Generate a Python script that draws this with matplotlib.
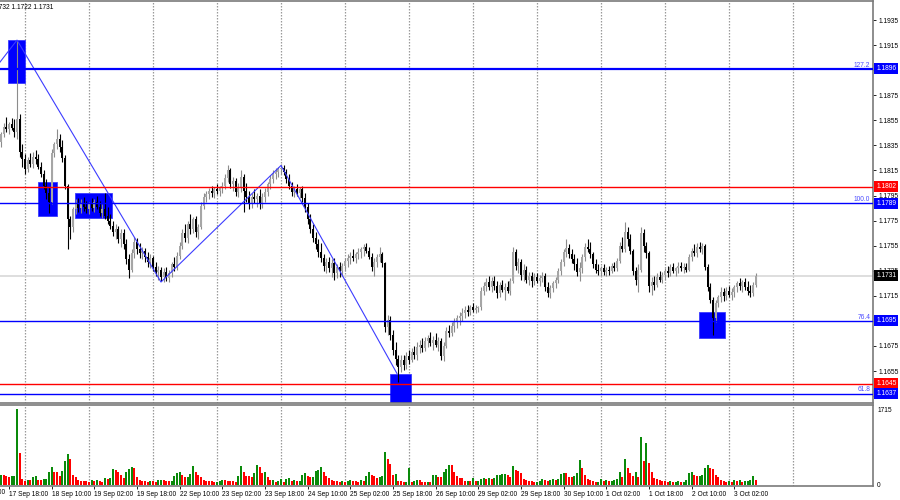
import matplotlib
matplotlib.use("Agg")
import matplotlib.pyplot as plt
import matplotlib.transforms as mtransforms
import numpy as np
import pandas as pd

#---------------------------------------#
# DATA (EURUSD H1, prices in pips above 1.1000, e.g. 845 -> 1.1845)
#---------------------------------------#
OPEN = [838, 844, 850, 848, 852, 849, 846, 856, 830, 824,
        816, 823, 820, 826, 824, 818, 812, 803, 797, 790,
        829, 836, 840, 834, 825, 803, 776, 770, 784, 788,
        785, 789, 786, 784, 788, 785, 790, 786, 781, 784,
        779, 775, 771, 766, 768, 760, 765, 756, 744, 736,
        749, 758, 752, 749, 751, 746, 742, 745, 738, 734,
        736, 730, 734, 729, 733, 740, 738, 747, 755, 765,
        761, 772, 768, 776, 766, 770, 787, 794, 796, 799,
        797, 800, 799, 801, 803, 809, 815, 804, 807, 798,
        802, 810, 799, 794, 788, 794, 792, 795, 789, 794,
        798, 804, 808, 812, 814, 816, 817, 814, 808, 803,
        798, 800, 797, 800, 793, 786, 776, 768, 761, 756,
        750, 745, 739, 742, 737, 741, 733, 738, 735, 739,
        743, 745, 747, 745, 748, 750, 752, 754, 751, 746,
        738, 742, 746, 748, 741, 690, 696, 684, 672, 665,
        658, 664, 660, 667, 664, 670, 668, 674, 676, 673,
        679, 681, 677, 680, 676, 679, 667, 675, 687, 685,
        691, 694, 697, 699, 701, 704, 702, 706, 704, 705,
        706, 719, 723, 726, 722, 727, 723, 717, 724, 720,
        722, 719, 727, 750, 739, 742, 732, 736, 728, 731,
        727, 730, 727, 729, 731, 722, 717, 721, 725, 728,
        735, 742, 750, 753, 748, 744, 740, 734, 737, 746,
        754, 752, 748, 740, 736, 735, 737, 734, 736, 735,
        739, 737, 743, 755, 752, 766, 760, 751, 735, 728,
        736, 765, 755, 749, 723, 726, 724, 730, 728, 732,
        735, 733, 738, 735, 737, 739, 737, 738, 736, 746,
        751, 749, 754, 752, 755, 738, 722, 712, 697, 709,
        714, 718, 715, 719, 716, 718, 722, 725, 723, 726,
        722, 719, 717, 724]
HIGH = [846, 853, 858, 854, 857, 856, 918, 860, 836, 828,
        826, 829, 830, 831, 828, 822, 815, 808, 802, 832,
        838, 848, 844, 839, 827, 804, 779, 786, 792, 793,
        792, 794, 791, 790, 793, 792, 795, 791, 788, 797,
        786, 780, 775, 772, 771, 768, 768, 760, 748, 752,
        762, 761, 757, 754, 753, 750, 748, 747, 742, 739,
        738, 737, 738, 736, 742, 746, 750, 758, 768, 772,
        775, 780, 778, 779, 772, 790, 797, 799, 801, 803,
        802, 804, 803, 806, 812, 819, 817, 810, 809, 805,
        815, 812, 805, 799, 797, 800, 797, 800, 797, 801,
        806, 811, 815, 817, 818, 820, 819, 816, 812, 806,
        803, 804, 802, 803, 797, 789, 780, 772, 766, 760,
        757, 748, 745, 746, 744, 745, 740, 742, 741, 745,
        748, 750, 752, 750, 753, 754, 756, 757, 754, 749,
        745, 748, 754, 750, 742, 700, 699, 688, 678, 668,
        668, 668, 670, 672, 673, 675, 678, 680, 681, 682,
        684, 686, 683, 685, 682, 681, 678, 690, 692, 694,
        697, 700, 702, 705, 707, 708, 708, 709, 708, 707,
        722, 726, 729, 731, 730, 731, 727, 726, 728, 725,
        727, 729, 754, 752, 745, 744, 740, 739, 734, 734,
        733, 733, 732, 734, 733, 726, 724, 727, 730, 737,
        744, 752, 760, 756, 752, 748, 745, 742, 748, 757,
        760, 758, 750, 744, 740, 739, 740, 738, 739, 741,
        742, 745, 758, 762, 774, 770, 764, 752, 738, 740,
        770, 768, 758, 751, 730, 731, 733, 735, 734, 737,
        739, 740, 741, 738, 742, 742, 741, 741, 748, 753,
        756, 757, 758, 757, 756, 740, 725, 714, 712, 716,
        722, 721, 722, 723, 721, 724, 727, 729, 728, 729,
        727, 724, 726, 733]
LOW = [834, 842, 846, 844, 847, 842, 840, 826, 818, 812,
       814, 818, 817, 820, 816, 810, 800, 792, 781, 788,
       826, 832, 830, 822, 800, 752, 760, 766, 780, 782,
       781, 783, 781, 780, 783, 782, 784, 779, 777, 776,
       772, 768, 763, 760, 757, 754, 752, 740, 729, 734,
       745, 748, 745, 744, 742, 738, 737, 735, 731, 728,
       727, 726, 727, 726, 730, 735, 736, 744, 752, 758,
       757, 764, 765, 762, 760, 768, 784, 790, 792, 794,
       793, 796, 795, 797, 800, 806, 801, 799, 795, 794,
       798, 782, 790, 784, 785, 789, 786, 784, 785, 790,
       795, 800, 805, 808, 810, 812, 811, 805, 800, 795,
       794, 795, 793, 790, 782, 772, 765, 758, 752, 746,
       742, 735, 733, 734, 730, 728, 729, 730, 731, 735,
       738, 740, 743, 741, 744, 745, 747, 749, 744, 735,
       731, 738, 742, 738, 686, 684, 680, 668, 660, 646,
       654, 656, 657, 661, 662, 665, 664, 669, 670, 671,
       674, 675, 672, 674, 671, 664, 663, 673, 682, 683,
       686, 689, 692, 695, 697, 699, 700, 702, 701, 702,
       704, 716, 719, 720, 718, 720, 713, 714, 718, 712,
       717, 716, 725, 736, 733, 728, 727, 725, 724, 722,
       724, 725, 723, 726, 719, 714, 713, 718, 721, 725,
       732, 739, 746, 745, 741, 736, 731, 727, 733, 743,
       750, 745, 737, 733, 732, 731, 732, 731, 732, 733,
       735, 735, 741, 750, 750, 755, 748, 732, 724, 718,
       734, 750, 745, 718, 716, 720, 722, 726, 725, 728,
       730, 731, 733, 731, 733, 735, 733, 734, 735, 743,
       747, 746, 750, 748, 736, 719, 709, 684, 694, 706,
       710, 711, 712, 714, 712, 714, 718, 720, 718, 720,
       716, 714, 715, 722]
CLOSE = [844, 850, 848, 852, 849, 846, 856, 830, 824, 816,
         823, 820, 826, 824, 818, 812, 803, 797, 790, 829,
         836, 840, 834, 825, 803, 776, 770, 784, 788, 785,
         789, 786, 784, 788, 785, 790, 786, 781, 784, 779,
         775, 771, 766, 768, 760, 765, 756, 744, 736, 749,
         758, 752, 749, 751, 746, 742, 745, 738, 734, 736,
         730, 734, 729, 733, 740, 738, 747, 755, 765, 761,
         772, 768, 776, 766, 770, 787, 794, 796, 799, 797,
         800, 799, 801, 803, 809, 815, 804, 807, 798, 802,
         810, 799, 794, 788, 794, 792, 795, 789, 794, 798,
         804, 808, 812, 814, 816, 817, 814, 808, 803, 798,
         800, 797, 800, 793, 786, 776, 768, 761, 756, 750,
         745, 739, 742, 737, 741, 733, 738, 735, 739, 743,
         745, 747, 745, 748, 750, 752, 754, 751, 746, 738,
         742, 746, 748, 741, 690, 696, 684, 672, 665, 658,
         664, 660, 667, 664, 670, 668, 674, 676, 673, 679,
         681, 677, 680, 676, 679, 667, 675, 687, 685, 691,
         694, 697, 699, 701, 704, 702, 706, 704, 705, 706,
         719, 723, 726, 722, 727, 723, 717, 724, 720, 722,
         719, 727, 750, 739, 742, 732, 736, 728, 731, 727,
         730, 727, 729, 731, 722, 717, 721, 725, 728, 735,
         742, 750, 753, 748, 744, 740, 734, 737, 746, 754,
         752, 748, 740, 736, 735, 737, 734, 736, 735, 739,
         737, 743, 755, 752, 766, 760, 751, 735, 728, 736,
         765, 755, 749, 723, 726, 724, 730, 728, 732, 735,
         733, 738, 735, 737, 739, 737, 738, 736, 746, 751,
         749, 754, 752, 755, 738, 722, 712, 697, 709, 714,
         718, 715, 719, 716, 718, 722, 725, 723, 726, 722,
         719, 717, 724, 731]
VOLUME = [230, 225, 210, 190, 200, 205, 1715, 720, 140, 95,
          110, 105, 180, 200, 120, 110, 130, 135, 300, 400,
          290, 285, 210, 310, 540, 700, 585, 230, 180, 120,
          95, 90, 85, 70, 115, 95, 110, 90, 75, 160,
          135, 165, 360, 330, 290, 220, 160, 300, 365, 400,
          385, 185, 115, 85, 80, 70, 90, 85, 75, 105,
          115, 110, 100, 85, 95, 200, 270, 290, 235, 175,
          185, 250, 430, 300, 225, 190, 115, 100, 90, 85,
          70, 75, 95, 110, 105, 100, 90, 85, 70, 200,
          430, 300, 205, 200, 185, 270, 450, 410, 280, 290,
          185, 115, 120, 75, 80, 130, 70, 140, 160, 95,
          110, 95, 100, 220, 280, 200, 180, 190, 310, 340,
          400, 295, 200, 150, 115, 100, 95, 70, 90, 65,
          85, 110, 95, 90, 70, 115, 100, 210, 300, 225,
          205, 165, 180, 210, 750, 590, 480, 230, 250, 95,
          90, 70, 75, 385, 75, 90, 110, 105, 75, 70,
          75, 70, 225, 230, 185, 180, 290, 360, 455, 450,
          300, 210, 160, 150, 90, 95, 85, 160, 90, 95,
          140, 160, 145, 155, 135, 150, 225, 230, 245, 250,
          220, 180, 430, 340, 320, 270, 140, 110, 95, 85,
          70, 75, 95, 130, 110, 100, 105, 140, 115, 130,
          250, 275, 270, 180, 175, 200, 275, 565, 385, 230,
          140, 115, 90, 70, 75, 130, 85, 110, 90, 95,
          110, 135, 300, 185, 590, 385, 275, 210, 295, 185,
          1085, 545, 950, 500, 295, 160, 135, 115, 90, 85,
          75, 95, 70, 75, 85, 65, 70, 110, 270, 290,
          230, 205, 210, 225, 385, 450, 380, 365, 230, 180,
          120, 90, 70, 85, 65, 105, 90, 110, 70, 85,
          90, 105, 205, 115]

# first bar time (terminal time), earlier bars only feed the time labels
FIRST_BAR = "2025-09-17 15:00"
LABEL_EVERY = 16

# zigzag pivots (bar index, pips)
ZZ_BARS = [-6, 6, 60, 105, 148.5]
ZZ_PIPS = [886, 919, 726, 819, 653]

# blue zones (bar from, bar to, pips top, pips bottom)
BOX_FROM = [2.6, 13.9, 27.7, 145.9, 261.7]
BOX_TO = [9.0, 21.0, 41.6, 153.7, 271.5]
BOX_TOP = [919, 806, 797, 653, 702]
BOX_BOTTOM = [885, 779, 777, 620, 681]

# horizontal levels
LEVEL_PIPS = [896, 802, 789, 695, 645, 637]
LEVEL_COLORS = ["#0000ff", "#ff0000", "#0000ff", "#0000ff", "#ff0000", "#0000ff"]
LEVEL_FIBS = ["127.2", "", "100.0", "76.4", "", "61.8"]
LAST_PRICE = 731
HEADER = "EURUSD,H1  1.1728 1.1732 1.1722 1.1731"

#---------------------------------------#
# HELPERS
#---------------------------------------#
def to_price(p):
    return 1.1 + np.asarray(p, dtype=float) / 10000.0


def bar_times(n_before, n_total):
    start = pd.Timestamp(FIRST_BAR) - pd.Timedelta(hours=n_before)
    hours = pd.date_range(start, periods=24 * 30, freq="h")
    hours = hours[hours.dayofweek < 5]
    return hours[:n_total]


plt.rcParams["font.family"] = ["Liberation Sans", "DejaVu Sans"]
FS = 4.8

o, h, l, c = to_price(OPEN), to_price(HIGH), to_price(LOW), to_price(CLOSE)
n = len(c)
x = np.arange(n)
# 17 Sep 15:00 is a Wednesday, 13 hours earlier is still the same day
n_before = 13
times = bar_times(n_before, n_before + 320)

fig = plt.figure(figsize=(9, 5), dpi=100)
ax = fig.add_axes([0, 0.194, 0.97, 0.804])
axv = fig.add_axes([0, 0.028, 0.97, 0.162])

XMIN, XMAX = -0.375, 327.0

# day separators
for i in range(0, 300):
    t = times[i + n_before]
    if t.hour == 0:
        for a in (ax, axv):
            a.axvline(i, color="#9a9a9a", lw=0.9, ls=(0, (1.2, 1.2)), zorder=0.5)

# zones
for x0, x1, top, bot in zip(BOX_FROM, BOX_TO, BOX_TOP, BOX_BOTTOM):
    pt, pb = to_price(top), to_price(bot)
    ax.add_patch(plt.Rectangle((x0, pb), x1 - x0, pt - pb, facecolor="#0000ff",
                               edgecolor="#3a3aff", lw=0.6, zorder=1))

# last price line
ax.axhline(to_price(LAST_PRICE), color="#d8d8d8", lw=1.2, zorder=1.5)

# candles
bull = c >= o
wick_col = np.where(bull, "#8c8c8c", "#000000")
body_col = np.where(bull, "#a6a6a6", "#000000")
ax.vlines(x, l, h, colors=wick_col, lw=0.8, zorder=3)
body_h = np.maximum(np.abs(c - o), 0.00004)
ax.bar(x, body_h, bottom=np.minimum(o, c), width=0.7, color=body_col,
       linewidth=0, zorder=3.2)

# zigzag
ax.plot(ZZ_BARS, to_price(ZZ_PIPS), color="#3c3cff", lw=0.8, zorder=4)

# levels
blend = mtransforms.blended_transform_factory(ax.transAxes, ax.transData)
tag_prices = [to_price(LAST_PRICE)]
for lv, col, fib in zip(LEVEL_PIPS, LEVEL_COLORS, LEVEL_FIBS):
    p = to_price(lv)
    tag_prices.append(p)
    ax.axhline(p, color=col, lw=1.6 if lv == 896 else 1.0, zorder=4)
    if fib:
        ax.text(0.997, p + 0.00003, fib, transform=blend, ha="right", va="bottom",
                fontsize=FS, color="#4a4aff", zorder=5)
    ax.text(1.0035, p, f"{p:.4f}", transform=blend, ha="left", va="center",
            fontsize=FS, color="white", clip_on=False, zorder=10,
            bbox=dict(boxstyle="square,pad=0.3", fc=col, ec="none"))
ax.text(1.0035, to_price(LAST_PRICE), f"{to_price(LAST_PRICE):.4f}", transform=blend,
        ha="left", va="center", fontsize=FS, color="white", clip_on=False, zorder=10,
        bbox=dict(boxstyle="square,pad=0.3", fc="black", ec="none"))

# price axis, labels hidden under a tag are left out
ax.set_xlim(XMIN, XMAX)
ax.set_ylim(1.16295, 1.19502)
ax.yaxis.tick_right()
ticks = np.arange(1.1635, 1.1950, 0.0020)
ax.set_yticks(ticks)
ax.set_yticklabels(["" if min(abs(t - tp) for tp in tag_prices) < 0.00025 else f"{t:.4f}"
                    for t in ticks])
ax.tick_params(axis="y", labelsize=FS, length=2.5, width=0.6, pad=1.5, colors="black")
ax.set_xticks([])
ax.spines["left"].set_visible(False)
for side in ("right", "top", "bottom"):
    ax.spines[side].set_color("#7a7a7a")
    ax.spines[side].set_linewidth(1.2)

# volumes: green when higher than the bar before
vol = np.array(VOLUME)
up = np.concatenate([[True], vol[1:] > vol[:-1]])
axv.bar(x, vol, width=0.75, color=np.where(up, "#0a8a0a", "#ff0000"), linewidth=0, zorder=3)
axv.set_xlim(XMIN, XMAX)
axv.set_ylim(-23, 1808)
axv.yaxis.tick_right()
axv.set_yticks([0, 1715])
axv.set_yticklabels(["0", "1715"])
axv.tick_params(axis="y", labelsize=FS, length=0, pad=3)
axv.spines["left"].set_visible(False)
for side in ("right", "top", "bottom"):
    axv.spines[side].set_color("#7a7a7a")
    axv.spines[side].set_linewidth(1.2)

# time labels
label_bars = [i for i in range(-n_before, n, LABEL_EVERY)]
lab_text = []
for i in label_bars:
    t = times[i + n_before]
    lab_text.append(f"{t.day} {t.strftime('%b')} {t.strftime('%H:%M')}")
vis = [(i, s) for i, s in zip(label_bars, lab_text) if i >= 0]
axv.set_xticks([i for i, _ in vis])
axv.set_xticklabels([s for _, s in vis], ha="left")
axv.tick_params(axis="x", labelsize=FS, length=2, width=0.6, pad=1.5)
for i, s in zip(label_bars, lab_text):
    if i < 0:
        axv.text(i, -0.035, s, transform=mtransforms.blended_transform_factory(axv.transData, axv.transAxes),
                 ha="left", va="top", fontsize=FS, clip_on=False)

fig.text(53 / 900, 1 - 7 / 500, HEADER, ha="right", va="center", fontsize=FS)

fig.savefig("out.png", dpi=100)
